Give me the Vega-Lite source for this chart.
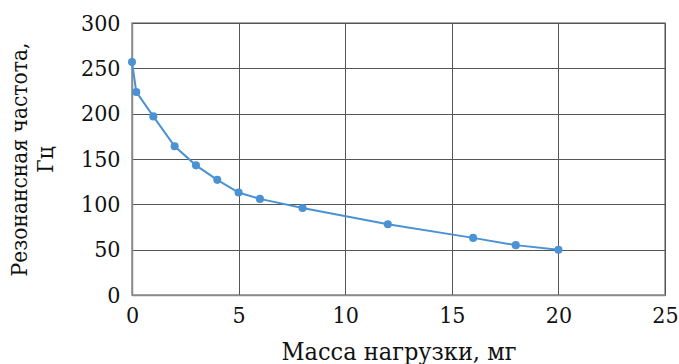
{
  "$schema": "https://vega.github.io/schema/vega-lite/v6.json",
  "width": 533,
  "height": 272,
  "autosize": {"type": "none"},
  "padding": {"left": 132, "top": 23, "right": 14, "bottom": 69},
  "background": "white",
  "config": {
    "view": {"stroke": "#8a8a8a", "strokeWidth": 1.5},
    "font": "DejaVu Serif Condensed"
  },
  "data": {
    "values": [
      {"m": 0, "f": 257},
      {"m": 0.2, "f": 224},
      {"m": 1, "f": 197},
      {"m": 2, "f": 164},
      {"m": 3, "f": 143},
      {"m": 4, "f": 127},
      {"m": 5, "f": 113},
      {"m": 6, "f": 106},
      {"m": 8, "f": 96},
      {"m": 12, "f": 78},
      {"m": 16, "f": 63},
      {"m": 18, "f": 55},
      {"m": 20, "f": 50}
    ]
  },
  "mark": {"type": "line", "color": "#4A92D4", "strokeWidth": 2, "point": {"filled": true, "size": 65, "color": "#4A92D4", "opacity": 1}},
  "encoding": {
    "x": {
      "field": "m", "type": "quantitative",
      "scale": {"domain": [0, 25], "nice": false},
      "axis": {
        "values": [0, 5, 10, 15, 20, 25],
        "title": "Масса нагрузки, мг",
        "titleFont": "DejaVu Serif Condensed", "titleFontSize": 25, "titleFontWeight": "normal", "titleColor": "#111",
        "titleY": 64, "titleBaseline": "alphabetic",
        "labelFont": "DejaVu Serif Condensed", "labelFontSize": 23, "labelColor": "#111", "labelPadding": 9, "labelFlush": false,
        "ticks": false, "domainColor": "#8a8a8a", "domainWidth": 1.5,
        "grid": true, "gridColor": "#555", "gridWidth": 1, "gridOpacity": 1
      }
    },
    "y": {
      "field": "f", "type": "quantitative",
      "scale": {"domain": [0, 300], "nice": false},
      "axis": {
        "values": [0, 50, 100, 150, 200, 250, 300],
        "title": ["Резонансная частота,", "Гц"],
        "titleFont": "DejaVu Serif Condensed", "titleFontSize": 22.5, "titleFontWeight": "normal", "titleColor": "#111",
        "titleAngle": -90, "titleAlign": "center", "titleBaseline": "alphabetic",
        "titleX": -106, "titleY": 136, "titleLineHeight": 26,
        "labelFont": "DejaVu Serif Condensed", "labelFontSize": 23, "labelColor": "#111", "labelPadding": 12, "labelFlush": false,
        "ticks": false, "domainColor": "#8a8a8a", "domainWidth": 1.5,
        "grid": true, "gridColor": "#555", "gridWidth": 1, "gridOpacity": 1
      }
    }
  }
}
